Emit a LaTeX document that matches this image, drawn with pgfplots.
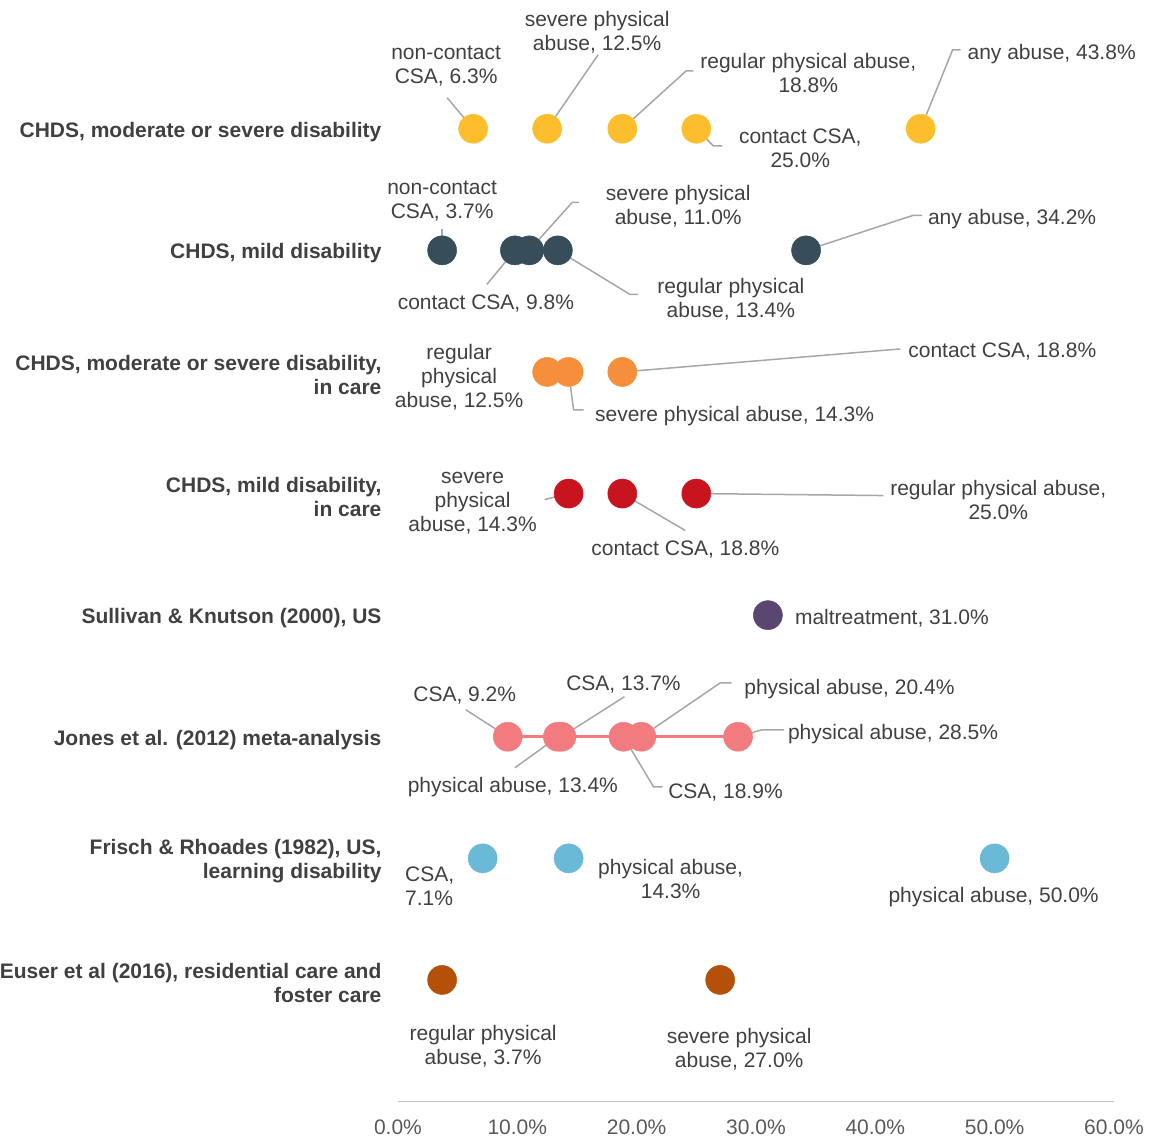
\documentclass[border=0pt]{standalone}
\usepackage{fontspec}
\setmainfont{Liberation Sans}
\usepackage{pgfplots}
\pgfplotsset{compat=1.18}
\definecolor{txt}{RGB}{64,64,64}
\definecolor{tickgray}{RGB}{89,89,89}
\definecolor{axgray}{RGB}{191,191,191}
\definecolor{leadgray}{RGB}{166,166,166}
\definecolor{cyellow}{RGB}{252,190,45}
\definecolor{cslate}{RGB}{55,77,90}
\definecolor{corange}{RGB}{245,143,60}
\definecolor{cred}{RGB}{200,20,30}
\definecolor{cpurple}{RGB}{91,70,112}
\definecolor{cpink}{RGB}{242,123,128}
\definecolor{cblue}{RGB}{105,185,215}
\definecolor{cbrown}{RGB}{180,80,10}
\newcommand{\lab}[5]{\node[lbl,xshift=#3pt,yshift=#4pt] at (axis cs:#1,#2) {#5};}
\begin{document}
\begin{tikzpicture}[
  lbl/.style={font=\fontsize{21}{24}\selectfont, text=txt, align=center, inner sep=0pt, yshift=-3pt},
  lead/.style={draw=leadgray, line width=1.5pt}]
\begin{axis}[
  scale only axis, width=716pt, height=1094.4pt,
  xmin=0, xmax=60, ymin=0, ymax=9,
  axis x line*=bottom, axis y line*=left,
  x axis line style={draw=axgray, line width=1.5pt},
  y axis line style={draw=none},
  major tick length=0pt,
  xtick={0,10,20,30,40,50,60},
  xticklabels={0.0\%,10.0\%,20.0\%,30.0\%,40.0\%,50.0\%,60.0\%},
  xticklabel style={font=\fontsize{21}{24}\selectfont, text=tickgray, yshift=-15pt},
  ytick={1,2,3,4,5,6,7,8},
  yticklabels={
    {Euser et al (2016), residential care and\\foster care},
    {Frisch \& Rhoades (1982), US,\\learning disability},
    {Jones et al. (2012) meta-analysis},
    {Sullivan \& Knutson (2000), US},
    {CHDS, mild disability,\\in care},
    {CHDS, moderate or severe disability,\\in care},
    {CHDS, mild disability},
    {CHDS, moderate or severe disability}},
  yticklabel style={font=\bfseries\fontsize{21}{24}\selectfont, text=txt, align=right, xshift=-13pt, yshift=-3pt},
  clip=false,
  dot/.style={only marks, mark=*, mark size=14.5pt, mark options={draw=#1, fill=#1, line width=0.5pt}},
]
% data
\addplot[cyellow, dot=cyellow]
  coordinates {(6.3,8) (12.5,8) (18.8,8) (25.0,8) (43.8,8)};
\addplot[cslate, dot=cslate]
  coordinates {(3.7,7) (9.8,7) (11.0,7) (13.4,7) (34.2,7)};
\addplot[corange, dot=corange]
  coordinates {(12.5,6) (14.3,6) (18.8,6)};
\addplot[cred, dot=cred]
  coordinates {(14.3,5) (18.8,5) (25.0,5)};
\addplot[cpurple, dot=cpurple]
  coordinates {(31.0,4)};
\addplot[cpink, line width=3pt, mark=*, mark size=14.5pt, mark options={draw=cpink, fill=cpink, line width=0.5pt}]
  coordinates {(9.2,3) (13.4,3) (13.7,3) (18.9,3) (20.4,3) (28.5,3)};
\addplot[cblue, dot=cblue]
  coordinates {(7.1,2) (14.3,2) (50.0,2)};
\addplot[cbrown, dot=cbrown]
  coordinates {(3.7,1) (27.0,1)};
% leaders row 1
\draw[lead] (axis cs:6.3,8) -- ++(-26pt,31pt);
\draw[lead] (axis cs:12.5,8) -- ++(51pt,74pt);
\draw[lead] (axis cs:18.8,8) -- ++(64pt,58pt) -- ++(7pt,0pt);
\draw[lead] (axis cs:25.0,8) -- ++(17pt,-17pt) -- ++(9pt,0pt);
\draw[lead] (axis cs:43.8,8) -- ++(32pt,79pt) -- ++(8pt,0pt);
% row 2
\draw[lead] (axis cs:3.7,7) -- ++(0pt,21pt);
\draw[lead] (axis cs:9.8,7) -- ++(-28pt,-34pt);
\draw[lead] (axis cs:11.0,7) -- ++(43pt,48pt) -- ++(7pt,0pt);
\draw[lead] (axis cs:13.4,7) -- ++(72pt,-44pt) -- ++(8pt,0pt);
\draw[lead] (axis cs:34.2,7) -- ++(107pt,35pt) -- ++(9pt,0pt);
% row 3
\draw[lead] (axis cs:12.5,6) -- ++(-9pt,0pt);
\draw[lead] (axis cs:14.3,6) -- ++(5pt,-38pt) -- ++(10pt,0pt);
\draw[lead] (axis cs:18.8,6) -- ++(278pt,23pt);
% row 4
\draw[lead] (axis cs:14.3,5) -- ++(-24pt,-6pt);
\draw[lead] (axis cs:18.8,5) -- ++(63pt,-37pt);
\draw[lead] (axis cs:25.0,5) -- ++(187pt,-2pt);
% row 6
\draw[lead] (axis cs:9.2,3) -- ++(-42pt,27pt);
\draw[lead] (axis cs:13.7,3) -- ++(63pt,40pt);
\draw[lead] (axis cs:13.4,3) -- ++(-43pt,-31pt);
\draw[lead] (axis cs:18.9,3) -- ++(30pt,-50pt) -- ++(9pt,0pt);
\draw[lead] (axis cs:20.4,3) -- ++(79pt,54pt) -- ++(11pt,0pt);
\draw[lead] (axis cs:28.5,3) -- ++(24pt,7pt) -- ++(22pt,0pt);
% labels row 1
\lab{6.3}{8}{-27}{66}{non-contact\\CSA, 6.3\%}
\lab{12.5}{8}{50}{100}{severe physical\\abuse, 12.5\%}
\lab{18.8}{8}{186}{59}{regular physical abuse,\\18.8\%}
\lab{25.0}{8}{104}{-17}{contact CSA,\\25.0\%}
\lab{43.8}{8}{131}{78}{any abuse, 43.8\%}
% row 2
\lab{3.7}{7}{0}{52}{non-contact\\CSA, 3.7\%}
\lab{9.8}{7}{-29}{-50}{contact CSA, 9.8\%}
\lab{11.0}{7}{149}{47}{severe physical\\abuse, 11.0\%}
\lab{13.4}{7}{173}{-46}{regular physical\\abuse, 13.4\%}
\lab{34.2}{7}{206}{34}{any abuse, 34.2\%}
% row 3
\lab{12.5}{6}{-88}{-2}{regular\\physical\\abuse, 12.5\%}
\lab{14.3}{6}{166}{-41}{severe physical abuse, 14.3\%}
\lab{18.8}{6}{380}{23}{contact CSA, 18.8\%}
% row 4
\lab{14.3}{5}{-96}{-7}{severe\\physical\\abuse, 14.3\%}
\lab{18.8}{5}{63}{-53}{contact CSA, 18.8\%}
\lab{25.0}{5}{302}{-3}{regular physical abuse,\\25.0\%}
% row 5
\lab{31.0}{4}{124}{0}{maltreatment, 31.0\%}
% row 6
\lab{9.2}{3}{-43}{44}{CSA, 9.2\%}
\lab{13.7}{3}{62}{55}{CSA, 13.7\%}
\lab{13.4}{3}{-45}{-47}{physical abuse, 13.4\%}
\lab{18.9}{3}{102}{-53}{CSA, 18.9\%}
\lab{20.4}{3}{208}{51}{physical abuse, 20.4\%}
\lab{28.5}{3}{155}{6}{physical abuse, 28.5\%}
% row 7
\node[lbl,align=left,xshift=-53pt,yshift=-25pt] at (axis cs:7.1,2) {CSA,\\7.1\%};
\lab{14.3}{2}{102}{-18}{physical abuse,\\14.3\%}
\lab{50.0}{2}{-1}{-36}{physical abuse, 50.0\%}
% row 8
\lab{3.7}{1}{41}{-63}{regular physical\\abuse, 3.7\%}
\lab{27.0}{1}{19}{-66}{severe physical\\abuse, 27.0\%}
\coordinate (bbsw) at (axis cs:-33.35,-0.291);
\coordinate (bbne) at (axis cs:63.02,9.059);
\end{axis}
\pgfresetboundingbox
\path[use as bounding box] (bbsw) rectangle (bbne);
\end{tikzpicture}
\end{document}
